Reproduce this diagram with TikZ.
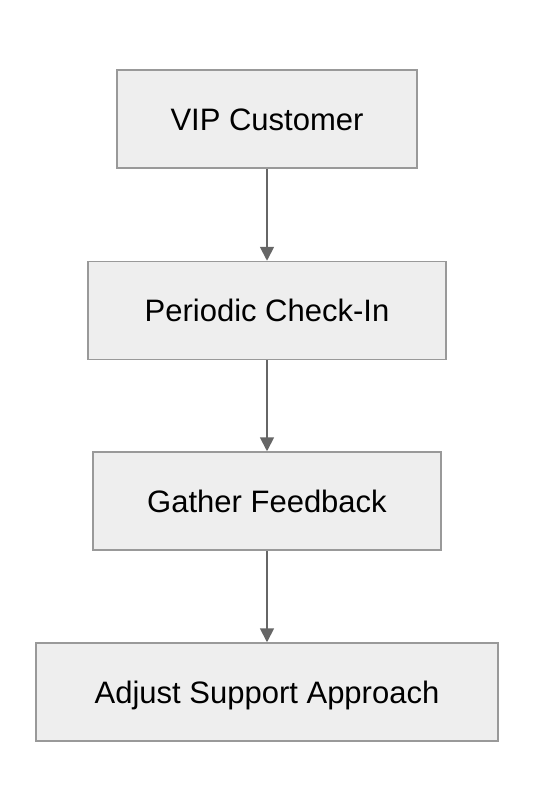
\documentclass[tikz,border=0pt]{standalone}
\usepackage{fontspec}
\setmainfont{Liberation Sans}
\usetikzlibrary{arrows.meta}
\definecolor{boxfill}{HTML}{EEEEEE}
\definecolor{boxline}{HTML}{999999}
\definecolor{arrowline}{HTML}{666666}
\begin{document}
\begin{tikzpicture}[x=1pt, y=-1pt,
	mybox/.style={rectangle, draw=boxline, fill=boxfill, line width=1.5pt, minimum height=98pt, inner sep=0pt, text height=22pt, text depth=0pt, font=\fontsize{31}{37}\selectfont},
	myarrow/.style={draw=arrowline, line width=1.8pt, -{Triangle[width=14pt,length=14pt]}, arrowline}]
			\useasboundingbox (0,0) rectangle (534,812);
			\node (1) at (267,119) [mybox, minimum width=300pt] {VIP Customer};
			\node (2) at (267,310.5) [mybox, minimum width=358pt] {Periodic Check-In};
			\node (3) at (267,501) [mybox, minimum width=348pt] {Gather Feedback};
			\node (4) at (267,692) [mybox, minimum width=462pt] {Adjust Support Approach};
			
			\draw[myarrow] (1)--(2);
			\draw[myarrow] (2)--(3);
			\draw[myarrow] (3)--(4);
		\end{tikzpicture}
\end{document}
